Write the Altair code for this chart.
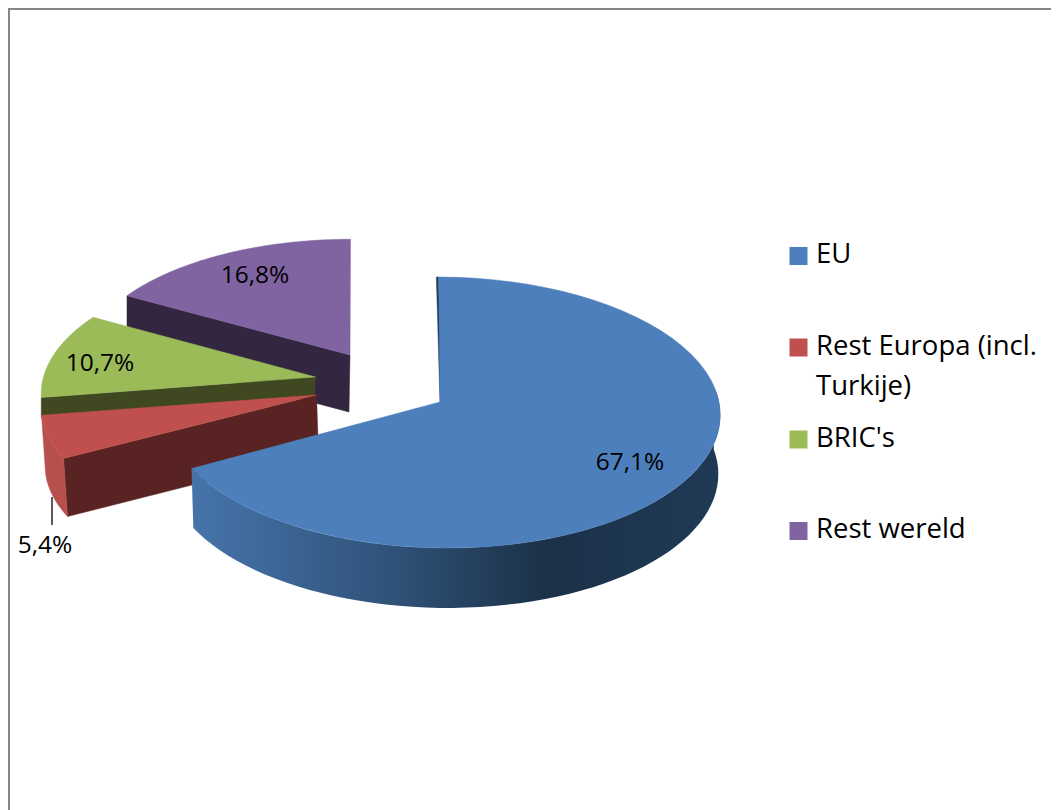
import math
import altair as alt
import pandas as pd

categories = ["EU", "Rest Europa (incl.\nTurkije)", "BRIC's", "Rest wereld"]
shares = [67.1, 5.4, 10.7, 16.8]
share_labels = ["67,1%", "5,4%", "10,7%", "16,8%"]
top_colors = ["#4c7fbb", "#c0504d", "#9bbb59", "#8064a2"]
wall_colors = ["#1f3a58", "#5a2323", "#3f4820", "#332640"]
rim_colors = ["#2f5278", "#b5504c", "#3f4820", "#332640"]

# projection of each exploded slice: apex x/y, ellipse centre x, radii, perspective, skew, wall depth
geom = [
    dict(ax=440, ay=402, cx=442, R=277, S=134.7, k=0.0775, sk=-5, d=59),
    dict(ax=316.5, ay=395, cx=316.5, R=274, S=127, k=0.10, sk=0, d=58),
    dict(ax=315.5, ay=377, cx=315.5, R=272, S=129, k=0.13, sk=0, d=20),
    dict(ax=350, ay=355, cx=350.5, R=267, S=125, k=0.08, sk=0, d=57),
]

W0, H0 = 8, 8
X = alt.X("x:Q", axis=None, scale=alt.Scale(domain=[W0, 1051], nice=False, zero=False))
Y = alt.Y("y:Q", axis=None, scale=alt.Scale(domain=[810, H0], nice=False, zero=False))

bounds = []
acc = 0.0
for s in shares:
    bounds.append((acc, acc + s))
    acc += s


def rim(g, deg, drop=0.0, rs=1.0):
    a = math.radians(deg)
    u, v = math.sin(a), math.cos(a)
    w = 1 + g["k"] * v
    x = g["cx"] + (g["R"] * rs * u + g["sk"] * v) / w
    y = g["ay"] + drop - g["S"] * v / w * (1 + (1 - rs) * 0.9 if v < 0 else 1)
    return x, y


def arc(g, a0, a1, drop=0.0, rs=1.0, n=60):
    return [rim(g, a0 + (a1 - a0) * i / n, drop, rs) for i in range(n + 1)]


def poly(points, fill):
    df = pd.DataFrame(points, columns=["x", "y"])
    df["i"] = range(len(df))
    return alt.Chart(df).mark_line(fill=fill, stroke=fill, strokeWidth=0.5, interpolate="linear-closed").encode(
        x=X, y=Y, order="i:Q"
    )


def to_deg(pct):
    return pct * 3.6


layers = []

frame = pd.DataFrame({"x": [9, 9, 1051], "y": [810, 9, 9], "i": [0, 1, 2]})
layers.append(alt.Chart(frame).mark_line(color="#868686", strokeWidth=2).encode(x=X, y=Y, order="i:Q"))

# back to front: Rest wereld, BRIC's, Rest Europa, EU
for idx in [3, 2, 1]:
    g = geom[idx]
    a0, a1 = (to_deg(b) for b in bounds[idx])
    apex = (g["ax"], g["ay"])
    if idx == 1:
        # radial wall facing the viewer and the outer rim
        e = rim(g, a0)
        layers.append(poly([apex, e, (e[0] + 4, e[1] + g["d"]), (apex[0] + 2, apex[1] + g["d"])], wall_colors[idx]))
        rim_top = arc(g, a0, a1)
        rim_bot = [(x + 4, y + g["d"]) for x, y in arc(g, a0, a1)]
        layers.append(poly(rim_top + rim_bot[::-1], rim_colors[idx]))
    else:
        e = rim(g, a0)
        layers.append(poly([apex, e, (e[0], e[1] + g["d"]), (apex[0] - 1, apex[1] + g["d"])], wall_colors[idx]))
    layers.append(poly([apex] + arc(g, a0, a1), top_colors[idx]))

# EU
g = geom[0]
a0, a1 = (to_deg(b) for b in bounds[0])
top = arc(g, 85, a1)
bot = arc(g, 85, a1, drop=g["d"], rs=0.993)
gradient = alt.LinearGradient(
    gradient="linear", x1=1, x2=0, y1=0, y2=0,
    stops=[
        alt.GradientStop(offset=0.0, color="#1f3a56"),
        alt.GradientStop(offset=0.33, color="#1c3148"),
        alt.GradientStop(offset=0.62, color="#2f5278"),
        alt.GradientStop(offset=0.88, color="#3f6a9c"),
        alt.GradientStop(offset=1.0, color="#4674aa"),
    ],
)
side_df = pd.DataFrame(top + bot[::-1], columns=["x", "y"])
side_df["i"] = range(len(side_df))
layers.append(
    alt.Chart(side_df).mark_line(fill=gradient, strokeWidth=0, interpolate="linear-closed").encode(x=X, y=Y, order="i:Q")
)
apex = (g["ax"], g["ay"])
tp = rim(g, a0)
layers.append(poly([(tp[0] - 1, tp[1]), apex, (apex[0] + 2, apex[1]), (tp[0] + 1, tp[1])], wall_colors[0]))
layers.append(poly([apex] + arc(g, a0 + 0.3, a1), top_colors[0]))

# leader line for the small slice
leader = pd.DataFrame({"x": [52, 52], "y": [497, 525], "i": [0, 1]})
layers.append(alt.Chart(leader).mark_line(color="#000000", strokeWidth=1.3).encode(x=X, y=Y, order="i:Q"))

# data labels
lab = pd.DataFrame({"x": [630, 45, 100, 255], "y": [463, 546, 364, 276], "t": share_labels})
layers.append(
    alt.Chart(lab).mark_text(font="Open Sans", fontSize=24.5, color="#000000", align="center", baseline="middle").encode(x=X, y=Y, text="t:N")
)

# legend
leg = pd.DataFrame({"x": [798.5] * 4, "y": [256, 347.5, 439.5, 531], "c": top_colors})
layers.append(
    alt.Chart(leg).mark_point(shape="square", size=324, filled=True, opacity=1).encode(
        x=X, y=Y, color=alt.Color("c:N", scale=None)
    )
)
lines = []
ys = [255, 347, 439, 530]
for cat, y0 in zip(categories, ys):
    for j, part in enumerate(cat.split("\n")):
        lines.append({"x": 816, "y": y0 + j * 40, "t": part})
layers.append(
    alt.Chart(pd.DataFrame(lines)).mark_text(font="Open Sans", fontSize=27.5, color="#000000", align="left", baseline="middle").encode(x=X, y=Y, text="t:N")
)

chart = (
    alt.layer(*layers)
    .properties(width=1043, height=802, padding=0, autosize=alt.AutoSizeParams(type="none"))
    .configure_view(stroke=None)
)
chart.save("out.html", embed_options={"renderer": "svg", "actions": False})
